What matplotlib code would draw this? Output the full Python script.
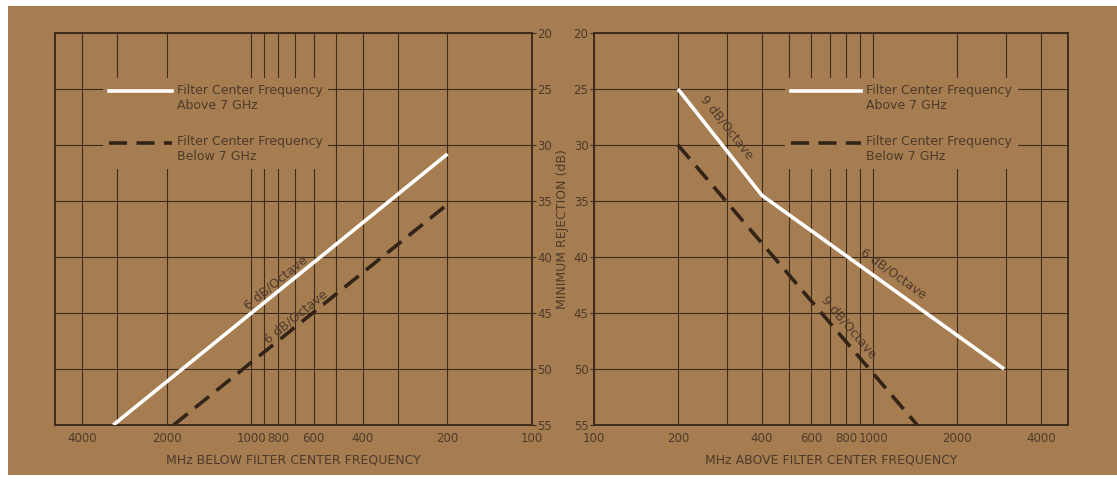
import numpy as np
import matplotlib
matplotlib.use("Agg")
import matplotlib.pyplot as plt
from matplotlib.lines import Line2D
from matplotlib.legend_handler import HandlerLine2D
from matplotlib.patches import Rectangle

# ---- data ----
left_white_mhz = [3100, 200]
left_white_db = [55, 30.8]
left_dash_mhz = [1890, 200]
left_dash_db = [55, 35.3]

right_white_mhz = [200, 400, 2950]
right_white_db = [25, 34.5, 50]
right_dash_mhz = [200, 1440]
right_dash_db = [30, 55]

grid_mhz = [200, 300, 400, 500, 600, 700, 800, 900, 1000, 2000, 3000, 4000]
label_mhz = [100, 200, 400, 600, 800, 1000, 2000, 4000]
db_ticks = [20, 25, 30, 35, 40, 45, 50, 55]

legend_labels = ["Filter Center Frequency\nAbove 7 GHz",
                 "Filter Center Frequency\nBelow 7 GHz"]

# (text, x, y, which series segment to follow)
left_notes = [("6 dB/Octave", 820, 42.3, "white", 0),
              ("6 dB/Octave", 690, 45.3, "dash", 0)]
right_notes = [("9 dB/Octave", 300, 28.4, "white", 0),
               ("6 dB/Octave", 1180, 41.5, "white", 1),
               ("9 dB/Octave", 820, 46.3, "dash", 0)]

BG = "#a67d51"
INK = "#3f2b1c"
TXT = "#4e3a2a"
DASH = "#33241a"

plt.rcParams["font.family"] = ["DejaVu Sans"]


class RaisedLine(HandlerLine2D):
    """legend sample sits on the first text line, not the middle"""
    def create_artists(self, legend, orig_handle, xdescent, ydescent,
                       width, height, fontsize, trans):
        arts = super().create_artists(legend, orig_handle, xdescent, ydescent,
                                      width, height, fontsize, trans)
        for a in arts:
            a.set_ydata(np.asarray(a.get_ydata()) + 0.6 * fontsize)
        return arts


fig = plt.figure(figsize=(11.17, 4.8), dpi=100)
fig.patch.set_facecolor("white")
fig.patches.append(Rectangle((8 / 1117, 5 / 480), 1, 1 - 11 / 480,
                             transform=fig.transFigure, facecolor=BG,
                             edgecolor="none", zorder=-10))

axL = fig.add_axes([55 / 1117, 55 / 480, 477 / 1117, 392 / 480])
axR = fig.add_axes([594 / 1117, 55 / 480, 474 / 1117, 392 / 480])


def style(ax, xlim):
    ax.set_facecolor(BG)
    ax.set_xscale("log")
    ax.set_xlim(*xlim)
    ax.set_ylim(55, 20)
    ax.set_xticks(grid_mhz, minor=True)
    ax.set_xticks(label_mhz)
    ax.set_xticklabels([str(v) for v in label_mhz])
    ax.xaxis.set_minor_formatter(plt.NullFormatter())
    ax.set_yticks(db_ticks)
    ax.grid(True, which="both", axis="x", color=INK, lw=0.8)
    ax.grid(True, which="major", axis="y", color=INK, lw=0.8)
    ax.tick_params(axis="x", which="both", length=0, pad=5,
                   labelsize=8.5, labelcolor=TXT)
    ax.tick_params(axis="y", length=3, width=0.8, color=INK, pad=1,
                   labelsize=8.5, labelcolor=TXT)
    for s in ax.spines.values():
        s.set_color(INK)
        s.set_linewidth(1.4)
    ax.set_axisbelow(True)


style(axL, (5000, 100))
style(axR, (100, 5000))
axL.yaxis.tick_right()
axL.set_xlabel("MHz BELOW FILTER CENTER FREQUENCY", fontsize=9, color=TXT, labelpad=6)
axR.set_xlabel("MHz ABOVE FILTER CENTER FREQUENCY", fontsize=9, color=TXT, labelpad=6)
axR.set_ylabel("MINIMUM REJECTION (dB)", fontsize=9, color=TXT, labelpad=3)

series = {
    axL: {"white": (left_white_mhz, left_white_db), "dash": (left_dash_mhz, left_dash_db)},
    axR: {"white": (right_white_mhz, right_white_db), "dash": (right_dash_mhz, right_dash_db)},
}
for ax, d in series.items():
    ax.plot(*d["white"], color="white", lw=2.6, solid_capstyle="butt",
            solid_joinstyle="round", zorder=3)
    ax.plot(*d["dash"], color=DASH, lw=2.6, dashes=(5, 2.6),
            dash_capstyle="butt", zorder=3)

handles = [Line2D([], [], color="white", lw=2.6),
           Line2D([], [], color=DASH, lw=2.6, dashes=(5, 2.6))]
for ax, anchor, hl in ((axL, (0.1015, 0.885), 5.0), (axR, (0.404, 0.885), 5.6)):
    leg = ax.legend(handles, legend_labels, loc="upper left", bbox_to_anchor=anchor,
                    frameon=True, fancybox=False, framealpha=1, facecolor=BG,
                    edgecolor="none", fontsize=9, labelcolor=TXT,
                    handlelength=hl, handletextpad=0.4, labelspacing=1.9,
                    borderpad=0.45, borderaxespad=0,
                    handler_map={Line2D: RaisedLine()})
    leg.set_zorder(5)


def seg_angle(ax, xs, ys, i):
    p = ax.transData.transform([(xs[i], ys[i]), (xs[i + 1], ys[i + 1])])
    return np.degrees(np.arctan2(p[1, 1] - p[0, 1], p[1, 0] - p[0, 0]))


for ax, notes in ((axL, left_notes), (axR, right_notes)):
    for txt, x, y, key, i in notes:
        xs, ys = series[ax][key]
        ang = seg_angle(ax, xs, ys, i)
        if ang > 90:
            ang -= 180
        elif ang < -90:
            ang += 180
        ax.text(x, y, txt, rotation=ang, rotation_mode="anchor",
                ha="center", va="center", fontsize=9, color=TXT, zorder=4)

fig.savefig("out.png", dpi=100, facecolor=fig.get_facecolor())
